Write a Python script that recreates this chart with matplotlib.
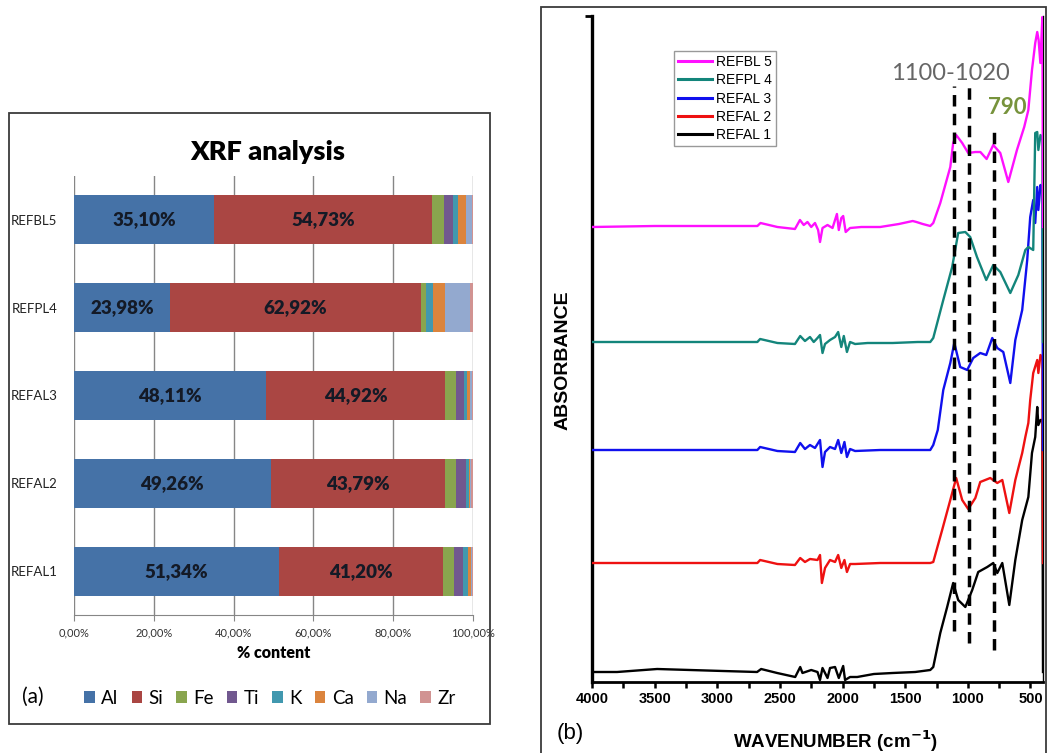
import matplotlib
matplotlib.use('Agg')
import matplotlib.pyplot as plt
from matplotlib.patches import Rectangle
from matplotlib.ticker import MultipleLocator

# ---------------- (a) XRF data ----------------
samples = ['REFAL1', 'REFAL2', 'REFAL3', 'REFPL4', 'REFBL5']
elements = ['Al', 'Si', 'Fe', 'Ti', 'K', 'Ca', 'Na', 'Zr']
al = [51.34, 49.26, 48.11, 23.98, 35.10]
si = [41.20, 43.79, 44.92, 62.92, 54.73]
fe = [2.70, 2.70, 2.70, 1.20, 2.80]
ti = [2.30, 2.60, 2.00, 0.10, 2.30]
k_ = [1.10, 0.60, 0.70, 1.70, 1.20]
ca = [0.80, 0.30, 0.70, 3.20, 2.00]
na = [0.40, 0.20, 0.70, 6.10, 1.50]
zr = [0.16, 0.55, 0.17, 0.80, 0.37]
xrf_ticks = [0, 20, 40, 60, 80, 100]
elem_colors = ['#4572A7', '#AA4643', '#89A54E', '#71588F',
               '#4198AF', '#DB843D', '#93A9CF', '#D19392']

# ---------------- (b) FTIR data ----------------
wn_al1 = [4000, 3800, 3480, 2954, 2682, 2650, 2522, 2378, 2338, 2320, 2250, 2200,
          2180, 2160, 2120, 2100, 2060, 2030, 1995, 1980, 1940, 1883, 1750, 1600,
          1420, 1300, 1276, 1220, 1165, 1117, 1077, 1020, 965, 917, 845, 797, 765,
          725, 669, 621, 566, 517, 488, 462, 446, 437, 420, 405, 400]
ab_al1 = [0.08, 0.08, 0.11, 0.09, 0.08, 0.11, 0.07, 0.03, 0.13, 0.07, 0.10, 0.08,
          0.00, 0.12, 0.02, 0.12, 0.13, 0.02, 0.14, 0.00, 0.03, 0.03, 0.06, 0.07,
          0.08, 0.10, 0.13, 0.47, 0.73, 0.97, 0.80, 0.73, 0.90, 1.08, 1.13, 1.17, 1.07,
          1.17, 0.75, 1.20, 1.60, 1.83, 2.27, 2.43, 2.73, 2.55, 2.60, 2.60, 0.08]

wn_al2 = [4000, 3500, 3000, 2680, 2658, 2520, 2380, 2338, 2300, 2260, 2200, 2180,
          2165, 2140, 2100, 2060, 2035, 2010, 1985, 1965, 1940, 1900, 1700, 1500,
          1300, 1276, 1205, 1140, 1093, 1045, 997, 940, 901, 821, 765, 725, 669,
          621, 566, 541, 517, 502, 478, 446, 437, 420, 405, 400]
ab_al2 = [1.17, 1.17, 1.17, 1.17, 1.20, 1.16, 1.15, 1.22, 1.18, 1.21, 1.20, 1.25,
          0.97, 1.12, 1.20, 1.18, 1.25, 1.12, 1.20, 1.08, 1.16, 1.16, 1.17, 1.17,
          1.17, 1.18, 1.50, 1.80, 2.02, 1.80, 1.71, 1.82, 1.98, 2.02, 1.97, 2.00, 1.67,
          2.00, 2.27, 2.43, 2.57, 2.80, 3.07, 3.20, 3.07, 3.25, 3.20, 1.17]

wn_al3 = [4000, 3500, 3000, 2680, 2658, 2520, 2380, 2338, 2300, 2260, 2220, 2180,
          2160, 2140, 2100, 2060, 2035, 2010, 1985, 1965, 1940, 1900, 1700, 1500,
          1300, 1276, 1240, 1196, 1140, 1108, 1061, 1005, 957, 901, 853, 805, 765,
          717, 661, 621, 566, 526, 502, 478, 462, 446, 437, 420, 405, 400]
ab_al3 = [2.30, 2.30, 2.30, 2.30, 2.33, 2.29, 2.28, 2.37, 2.31, 2.35, 2.32, 2.40,
          2.13, 2.28, 2.33, 2.31, 2.40, 2.27, 2.38, 2.23, 2.31, 2.29, 2.30, 2.30,
          2.30, 2.35, 2.50, 2.90, 3.17, 3.37, 3.13, 3.10, 3.22, 3.27, 3.25, 3.42, 3.32,
          3.28, 2.97, 3.40, 3.70, 4.20, 4.63, 4.80, 4.57, 4.93, 4.70, 4.95, 4.90, 2.30]

wn_pl4 = [4000, 3500, 3000, 2680, 2658, 2520, 2380, 2338, 2300, 2260, 2230, 2200,
          2180, 2160, 2140, 2100, 2060, 2035, 2010, 1990, 1965, 1940, 1900, 1800,
          1600, 1400, 1300, 1276, 1196, 1125, 1077, 1020, 981, 927, 853, 797, 741,
          661, 597, 541, 517, 478, 462, 446, 437, 420, 405, 400]
ab_pl4 = [3.38, 3.38, 3.38, 3.38, 3.41, 3.37, 3.36, 3.44, 3.39, 3.43, 3.38, 3.42,
          3.45, 3.27, 3.36, 3.40, 3.43, 3.48, 3.33, 3.44, 3.28, 3.38, 3.36, 3.37,
          3.37, 3.38, 3.38, 3.42, 3.80, 4.13, 4.47, 4.48, 4.43, 4.23, 4.00, 4.15, 4.08,
          3.87, 4.05, 4.30, 4.33, 4.30, 5.47, 5.48, 5.30, 5.45, 5.40, 3.38]

wn_bl5 = [4000, 3500, 3000, 2680, 2655, 2520, 2380, 2340, 2310, 2280, 2250, 2220,
          2195, 2180, 2160, 2120, 2080, 2045, 2030, 2010, 1995, 1975, 1940, 1850,
          1700, 1550, 1440, 1410, 1360, 1300, 1276, 1220, 1140, 1117, 1093, 1045,
          997, 940, 900, 850, 797, 741, 677, 608, 550, 517, 488, 462, 446, 435, 421,
          405, 400]
ab_bl5 = [4.53, 4.54, 4.54, 4.54, 4.57, 4.53, 4.51, 4.60, 4.55, 4.58, 4.53, 4.57,
          4.50, 4.38, 4.52, 4.55, 4.52, 4.66, 4.50, 4.62, 4.64, 4.48, 4.52, 4.53,
          4.53, 4.56, 4.59, 4.58, 4.56, 4.54, 4.57, 4.77, 5.13, 5.37, 5.45, 5.37,
          5.27, 5.28, 5.28, 5.21, 5.35, 5.27, 4.98, 5.30, 5.53, 5.70, 6.10, 6.37,
          6.48, 6.40, 6.17, 6.63, 4.53]

band_positions = [1110, 990, 790]
band_top = [5.94, 5.94, 5.52]
band_bottom = [0.49, 0.37, 0.30]

W, H = 1048, 753
fig = plt.figure(figsize=(W / 100, H / 100), dpi=100)

def fx(px):
    return px / W

def fy(py):
    return 1 - py / H

# panel frames
fig.add_artist(Rectangle((fx(9), fy(724)), fx(490) - fx(9), fy(113) - fy(724),
                         transform=fig.transFigure, fill=False, edgecolor='#3a3a3a', lw=1.3))
fig.add_artist(Rectangle((fx(541), fy(770)), fx(1046) - fx(541), fy(7) - fy(770),
                         transform=fig.transFigure, fill=False, edgecolor='#3a3a3a', lw=1.3))

# ---------------- panel (a) ----------------
LATO = ['Lato', 'DejaVu Sans']
axa = fig.add_axes([fx(74), fy(615), fx(473) - fx(74), fy(176) - fy(615)])
series = [al, si, fe, ti, k_, ca, na, zr]
left = [0.0] * len(samples)
conts = []
for name, vals, col in zip(elements, series, elem_colors):
    c = axa.barh(range(len(samples)), vals, left=left, height=0.56, color=col,
                 label=name, zorder=3)
    conts.append(c)
    left = [l + v for l, v in zip(left, vals)]
for c, vals in zip(conts[:2], [al, si]):
    axa.bar_label(c, labels=[('%.2f%%' % v).replace('.', ',') for v in vals],
                  label_type='center', fontsize=13.5, fontweight='heavy',
                  color='#141a26', family=LATO)
axa.set_xlim(0, 100)
axa.set_ylim(-0.5, 4.5)
axa.set_xticks(xrf_ticks)
axa.set_xticklabels([('%.2f%%' % t).replace('.', ',') for t in xrf_ticks],
                    fontsize=8, family=LATO, color='#333333')
axa.set_yticks(range(len(samples)))
axa.set_yticklabels(samples, fontsize=9.5, family=LATO, color='#222222')
axa.tick_params(axis='y', length=0, pad=12)
axa.tick_params(axis='x', length=4, color='#868686', pad=5)
axa.grid(axis='x', color='#868686', lw=1.0, zorder=0)
for s in ['top', 'right', 'left']:
    axa.spines[s].set_visible(False)
axa.spines['bottom'].set_color('#868686')
axa.set_xlabel('% content', fontsize=11.5, fontweight='heavy', family=LATO, labelpad=5)
fig.text(fx(268), fy(152), 'XRF analysis', ha='center', va='center',
         fontsize=19.5, fontweight='heavy', family=LATO)
fig.legend(handles=conts, labels=elements, loc='center',
           bbox_to_anchor=(fx(270), fy(698)), ncol=8, frameon=False,
           prop={'family': LATO, 'size': 13.5}, handlelength=0.55, handleheight=0.55,
           handletextpad=0.35, columnspacing=0.7, borderaxespad=0)
fig.text(fx(33), fy(697), '(a)', ha='center', va='center', fontsize=15, family=LATO)

# ---------------- panel (b) ----------------
ARIAL = ['Liberation Sans', 'DejaVu Sans']
axb = fig.add_axes([fx(592), fy(682), fx(1043) - fx(592), fy(16) - fy(682)])
spectra = [
    ('REFAL 1', wn_al1, ab_al1, 'black'),
    ('REFAL 2', wn_al2, ab_al2, '#ee1111'),
    ('REFAL 3', wn_al3, ab_al3, '#1010ee'),
    ('REFPL 4', wn_pl4, ab_pl4, '#13857b'),
    ('REFBL 5', wn_bl5, ab_bl5, '#ff10ff'),
]
handles = {}
for name, wn, ab, col in spectra:
    ln, = axb.plot(wn, ab, color=col, lw=1.7, label=name, zorder=3)
    handles[name] = ln
axb.vlines(band_positions, band_bottom, band_top, colors='black', lw=2.5,
           linestyles=(0, (3.3, 2.1)), zorder=5)
axb.set_xlim(4000, 400)
axb.set_ylim(-0.02, 6.64)
axb.xaxis.set_major_locator(MultipleLocator(500))
axb.xaxis.set_minor_locator(MultipleLocator(250))
axb.tick_params(axis='x', which='both', direction='out', length=4, width=1.8, pad=3)
for lab in axb.get_xticklabels():
    lab.set_fontweight('bold')
    lab.set_fontsize(10.5)
    lab.set_family(ARIAL)
axb.set_yticks([6.64])
axb.set_yticklabels([''])
axb.tick_params(axis='y', direction='out', length=5, width=2)
axb.spines['top'].set_visible(False)
axb.spines['left'].set_linewidth(2.4)
axb.spines['bottom'].set_linewidth(2.0)
axb.spines['right'].set_linewidth(1.0)
order = ['REFBL 5', 'REFPL 4', 'REFAL 3', 'REFAL 2', 'REFAL 1']
leg = axb.legend([handles[o] for o in order], order, loc='upper left',
                 bbox_to_anchor=(fx(674), fy(51)), bbox_transform=fig.transFigure,
                 fancybox=False, edgecolor='#999999', framealpha=1,
                 prop={'family': ARIAL, 'size': 10}, handlelength=2.4,
                 handletextpad=0.3, labelspacing=0.3, borderpad=0.3, borderaxespad=0)
for ln in leg.get_lines():
    ln.set_linewidth(2.2)
fig.text(fx(950), fy(74), '1100-1020', ha='center', va='center', fontsize=17,
         color='#666666', family=LATO)
fig.text(fx(1007), fy(108), '790', ha='center', va='center', fontsize=16,
         color='#77933C', fontweight='bold', family=LATO)
fig.text(fx(563), fy(360), 'ABSORBANCE', rotation=90, ha='center', va='center',
         fontsize=14, fontweight='bold', family=ARIAL)
fig.text(fx(836), fy(741), r'WAVENUMBER (cm$^{\mathbf{-1}}$)', ha='center', va='center',
         fontsize=13.5, fontweight='bold', family=ARIAL)
fig.text(fx(570), fy(733), '(b)', ha='center', va='center', fontsize=16, family=ARIAL)

fig.savefig('out.png', dpi=100)
